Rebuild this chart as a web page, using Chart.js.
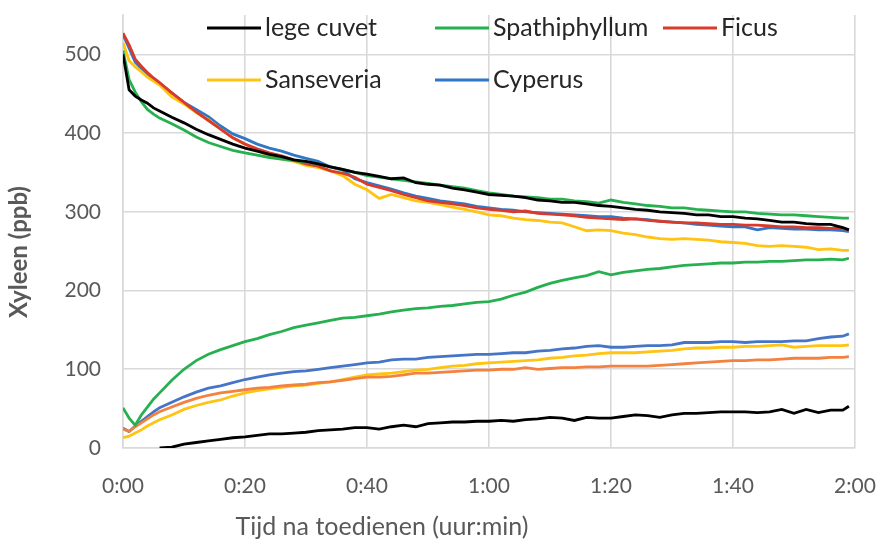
<!DOCTYPE html>
<html>
<head>
<meta charset="utf-8">
<title>Xyleen</title>
<script src="https://cdn.jsdelivr.net/npm/chart.js@4.4.1/dist/chart.umd.min.js"></script>
<style>
  html, body { margin: 0; padding: 0; background: #fff; }
  #wrap { width: 879px; height: 545px; }
</style>
</head>
<body>
<div id="wrap"><canvas id="grafiek"></canvas></div>
<script>
// tijd in minuten na toedienen
const minuten = [0, 1, 2, 3, 4, 5, 6,
  8, 10, 12, 14, 16, 18, 20, 22, 24, 26, 28, 30, 32, 34, 36, 38,
  40, 42, 44, 46, 48, 50, 52, 54, 56, 58, 60, 62, 64, 66, 68, 70,
  72, 74, 76, 78, 80, 82, 84, 86, 88, 90, 92, 94, 96, 98, 100, 102,
  104, 106, 108, 110, 112, 114, 116, 118, 119];

const soorten = ["lege cuvet", "Spathiphyllum", "Ficus", "Sanseveria", "Cyperus"];

// xyleen (ppb) in de bovenste cuvet
const legeBoven = [500, 455, 447, 442, 438, 432, 428,
  420, 413, 405, 398, 392, 386, 381, 377, 373, 370, 366, 364, 361, 357, 354, 350,
  348, 345, 342, 343, 337, 335, 334, 330, 328, 325, 322, 321, 320, 318, 315, 314,
  312, 312, 310, 308, 307, 305, 303, 302, 300, 299, 298, 296, 296, 294, 294, 292,
  291, 289, 287, 287, 285, 284, 284, 280, 277];
const spathiBoven = [505, 468, 452, 440, 430, 424, 419,
  412, 404, 395, 388, 383, 378, 375, 372, 369, 367, 365, 363, 361, 357, 354, 350,
  346, 344, 342, 340, 338, 336, 334, 332, 330, 327, 324, 322, 320, 319, 318, 316,
  316, 314, 313, 311, 315, 312, 310, 308, 307, 305, 305, 303, 302, 301, 300, 300,
  298, 297, 296, 296, 295, 294, 293, 292, 292];
const ficusBoven = [527, 512, 494, 485, 477, 470, 464,
  451, 439, 427, 416, 405, 394, 386, 380, 375, 371, 366, 361, 358, 352, 349, 344,
  335, 331, 327, 322, 318, 314, 312, 310, 308, 305, 303, 302, 300, 301, 298, 297,
  296, 295, 293, 292, 291, 290, 291, 289, 288, 287, 286, 286, 285, 284, 284, 283,
  283, 282, 281, 281, 280, 280, 279, 279, 277];
const sanseBoven = [515, 492, 484, 478, 471, 466, 461,
  446, 437, 426, 417, 405, 394, 386, 378, 371, 367, 364, 359, 356, 352, 346, 335,
  328, 317, 322, 318, 314, 312, 309, 306, 303, 300, 296, 295, 292, 290, 289, 287,
  286, 281, 276, 277, 276, 273, 271, 268, 266, 265, 266, 265, 264, 262, 261, 260,
  257, 256, 257, 256, 255, 252, 253, 251, 251];
const cyperusBoven = [525, 508, 490, 482, 475, 469, 463,
  451, 439, 430, 421, 409, 399, 393, 386, 381, 377, 372, 368, 364, 357, 353, 342,
  337, 333, 329, 324, 320, 317, 314, 312, 310, 307, 305, 303, 302, 300, 299, 298,
  297, 296, 295, 294, 294, 292, 291, 290, 288, 287, 286, 284, 283, 282, 281, 281,
  277, 280, 279, 278, 278, 277, 277, 276, 275];

// xyleen (ppb) in de onderste cuvet
const legeOnder = [null, null, null, null, null, null, 0,
  1, 5, 7, 9, 11, 13, 14, 16, 18, 18, 19, 20, 22, 23, 24, 26,
  26, 24, 27, 29, 27, 31, 32, 33, 33, 34, 34, 35, 34, 36, 37, 39,
  38, 35, 39, 38, 38, 40, 42, 41, 39, 42, 44, 44, 45, 46, 46, 46,
  45, 46, 49, 44, 49, 45, 48, 48, 53];
const spathiOnder = [51, 38, 29, 42, 52, 62, 70,
  86, 100, 111, 119, 125, 130, 135, 139, 144, 148, 153, 156, 159, 162, 165, 166,
  168, 170, 173, 175, 177, 178, 180, 181, 183, 185, 186, 189, 194, 198, 204, 209,
  213, 216, 219, 224, 220, 223, 225, 227, 228, 230, 232, 233, 234, 235, 235, 236,
  236, 237, 237, 238, 239, 239, 240, 239, 241];
const ficusOnder = [24, 21, 27, 32, 37, 42, 46,
  52, 58, 63, 67, 70, 72, 74, 76, 77, 79, 80, 81, 83, 84, 86, 88,
  90, 90, 91, 93, 95, 95, 96, 97, 98, 99, 99, 100, 100, 102, 100, 101,
  102, 102, 103, 103, 104, 104, 104, 104, 105, 106, 107, 108, 109, 110, 111, 111,
  112, 112, 113, 114, 114, 114, 115, 115, 116];
const sanseOnder = [13, 15, 19, 23, 28, 32, 36,
  42, 49, 54, 58, 61, 66, 70, 73, 75, 77, 79, 80, 82, 84, 87, 90,
  93, 94, 95, 97, 99, 100, 102, 104, 105, 107, 108, 109, 110, 111, 112, 114,
  115, 117, 118, 120, 121, 121, 121, 122, 123, 124, 126, 127, 127, 128, 128, 129,
  129, 130, 131, 128, 129, 130, 130, 130, 131];
const cyperusOnder = [25, 21, 28, 34, 40, 46, 51,
  58, 65, 71, 76, 79, 83, 87, 90, 93, 95, 97, 98, 100, 102, 104, 106,
  108, 109, 112, 113, 113, 115, 116, 117, 118, 119, 119, 120, 121, 121, 123, 124,
  126, 127, 129, 130, 128, 128, 129, 130, 130, 131, 134, 134, 134, 135, 135, 134,
  135, 135, 135, 136, 136, 139, 141, 142, 145];

const yTicks = [0, 100, 200, 300, 400, 500];

const kleuren = {
  zwart: "#000000",
  groen: "#27B04F",
  rood: "#D93A2B",
  oranje: "#F3813F",
  geel: "#FFC312",
  blauw: "#2F78C8",
  blauwLicht: "#4675C8"
};

const punten = function (reeks) {
  return minuten
    .map((m, i) => ({ x: m, y: reeks[i] }))
    .filter((p) => p.y !== null);
};

const lijn = function (naam, reeks, kleur) {
  return {
    label: naam,
    data: punten(reeks),
    borderColor: kleur,
    backgroundColor: kleur,
    borderWidth: 2.8,
    pointRadius: 0,
    tension: 0,
    fill: false
  };
};

const legenda = [
  { naam: soorten[0], kleur: kleuren.zwart, x: 207, y: 28 },
  { naam: soorten[1], kleur: kleuren.groen, x: 435, y: 28 },
  { naam: soorten[2], kleur: kleuren.rood, x: 663, y: 28 },
  { naam: soorten[3], kleur: kleuren.geel, x: 207, y: 80 },
  { naam: soorten[4], kleur: kleuren.blauw, x: 435, y: 80 }
];

// legenda en as-titels zelf tekenen
const extraTekst = {
  id: "extraTekst",
  afterDraw(chart) {
    const ctx = chart.ctx;
    ctx.save();
    legenda.forEach((item) => {
      ctx.strokeStyle = item.kleur;
      ctx.lineWidth = 3;
      ctx.beginPath();
      ctx.moveTo(item.x, item.y);
      ctx.lineTo(item.x + 54, item.y);
      ctx.stroke();
      ctx.fillStyle = "#262626";
      ctx.font = "25px Lato";
      ctx.textAlign = "left";
      ctx.textBaseline = "middle";
      ctx.fillText(item.naam, item.x + 58, item.y);
    });

    ctx.fillStyle = "#595959";
    ctx.font = "25px Lato";
    ctx.textAlign = "center";
    ctx.textBaseline = "middle";
    ctx.fillText("Tijd na toedienen (uur:min)", 382, 527);

    ctx.translate(19, 252);
    ctx.rotate(-Math.PI / 2);
    ctx.font = "bold 24px Lato";
    ctx.fillText("Xyleen (ppb)", 0, 0);
    ctx.restore();
  }
};

const canvas = document.getElementById("grafiek");
const grafiek = new Chart(canvas, {
  type: "line",
  data: {
    datasets: [
      lijn("lege cuvet", legeBoven, kleuren.zwart),
      lijn("Spathiphyllum", spathiBoven, kleuren.groen),
      lijn("Ficus", ficusBoven, kleuren.rood),
      lijn("Sanseveria", sanseBoven, kleuren.geel),
      lijn("Cyperus", cyperusBoven, kleuren.blauw),
      lijn("lege cuvet", legeOnder, kleuren.zwart),
      lijn("Spathiphyllum", spathiOnder, kleuren.groen),
      lijn("Ficus", ficusOnder, kleuren.oranje),
      lijn("Sanseveria", sanseOnder, kleuren.geel),
      lijn("Cyperus", cyperusOnder, kleuren.blauwLicht)
    ]
  },
  options: {
    responsive: true,
    maintainAspectRatio: false,
    animation: false,
    layout: { padding: { left: 0, top: 15, right: 24, bottom: 0 } },
    plugins: {
      legend: { display: false },
      tooltip: { enabled: false }
    },
    scales: {
      x: {
        type: "linear",
        min: 0,
        max: 120,
        afterFit: (s) => {
          s.height = 97;
          s.paddingLeft = 0;
          s.paddingRight = 0;
        },
        grid: { color: "#d9d9d9", lineWidth: 1.6, drawTicks: false },
        border: { color: "#d9d9d9", width: 1.6 },
        ticks: {
          stepSize: 20,
          padding: 26,
          color: "#595959",
          font: { family: "Lato", size: 21 },
          maxRotation: 0,
          callback: (v) => Math.floor(v / 60) + ":" + String(v % 60).padStart(2, "0")
        }
      },
      y: {
        min: 0,
        max: 550,
        afterFit: (s) => {
          s.width = 123;
          s.paddingTop = 0;
          s.paddingBottom = 0;
        },
        afterBuildTicks: (s) => { s.ticks = yTicks.map((v) => ({ value: v })); },
        grid: { color: "#d9d9d9", lineWidth: 1.6, drawTicks: false },
        border: { color: "#d9d9d9", width: 1.6 },
        ticks: {
          padding: 22,
          color: "#595959",
          font: { family: "Lato", size: 21 }
        }
      }
    }
  },
  plugins: [extraTekst]
});
</script>
</body>
</html>
